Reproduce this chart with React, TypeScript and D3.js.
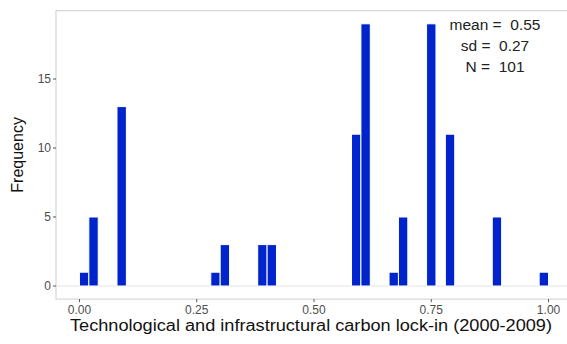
import * as d3 from "d3";
import React, { useEffect } from "react";

// histogram bins (binwidth 0.02, boundary 0): left edge and count
const binStarts = [0.0, 0.02, 0.08, 0.28, 0.3, 0.38, 0.4, 0.58, 0.6, 0.66, 0.68, 0.74, 0.78, 0.88, 0.98];
const binCounts = [1, 5, 13, 1, 3, 3, 3, 11, 19, 1, 5, 19, 11, 5, 1];
const binWidth = 0.02;

const xTicks = [0, 0.25, 0.5, 0.75, 1.0];
const yTicks = [0, 5, 10, 15];
const statLines = ["mean =  0.55", "sd =  0.27", "N =  101"];

const W = 567;
const H = 344;
const FONT = "'Liberation Sans', Arial, Helvetica, sans-serif";

const App: React.FC = () => {
  useEffect(() => {
    document.body.style.margin = "0";
  }, []);

  const panel = { left: 56, right: 572, top: 10.7, bottom: 299.1 };

  const x = d3.scaleLinear().domain([-0.05, 1.05]).range([panel.left, panel.right]);
  const y = d3.scaleLinear().domain([-0.95, 19.95]).range([panel.bottom, panel.top]);

  return (
    <svg width={W} height={H} style={{ display: "block", background: "white" }} fontFamily={FONT}>
      <rect
        x={panel.left}
        y={panel.top}
        width={panel.right - panel.left}
        height={panel.bottom - panel.top}
        fill="white"
        stroke="#d6d6d6"
        strokeWidth={1.2}
      />
      {/* baseline at zero */}
      <line x1={panel.left} x2={panel.right} y1={y(0)} y2={y(0)} stroke="#e3e3e3" strokeWidth={1} />

      {binStarts.map((s, i) => (
        <rect
          key={i}
          x={x(s)}
          y={y(binCounts[i])}
          width={x(s + binWidth) - x(s)}
          height={y(0) - y(binCounts[i])}
          fill="#0024CC"
          stroke="white"
          strokeWidth={1}
        />
      ))}

      {/* y axis */}
      {yTicks.map((t) => (
        <g key={t} transform={`translate(${panel.left},${y(t)})`}>
          <line x1={-3} x2={0} stroke="#555" strokeWidth={1} />
          <text x={-5} dy="0.35em" textAnchor="end" fontSize={12} fill="#4d4d4d">
            {t}
          </text>
        </g>
      ))}

      {/* x axis */}
      {xTicks.map((t) => (
        <g key={t} transform={`translate(${x(t)},${panel.bottom})`}>
          <line y1={0} y2={3} stroke="#555" strokeWidth={1} />
          <text y={14.5} textAnchor="middle" fontSize={12} fill="#4d4d4d">
            {d3.format(".2f")(t)}
          </text>
        </g>
      ))}

      <text x={311} y={331} textAnchor="middle" fontSize={16} fill="#111" textLength={482} lengthAdjust="spacingAndGlyphs">
        Technological and infrastructural carbon lock-in (2000-2009)
      </text>
      <text
        transform={`translate(23,${(panel.top + panel.bottom) / 2}) rotate(-90)`}
        textAnchor="middle"
        fontSize={16}
        fill="#111"
      >
        Frequency
      </text>

      {statLines.map((s, i) => (
        <text key={s} x={495} y={30 + i * 21} textAnchor="middle" fontSize={15.5} fill="#222" style={{ whiteSpace: "pre" }}>
          {s}
        </text>
      ))}
    </svg>
  );
};

export default App;
